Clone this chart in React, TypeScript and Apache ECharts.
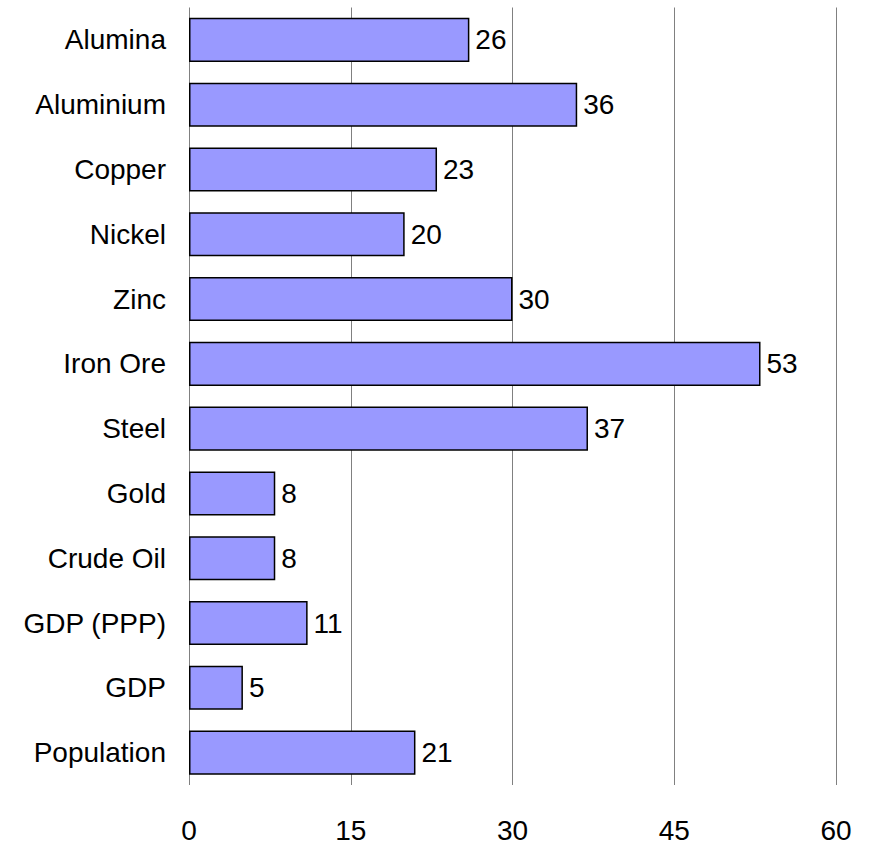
import React, { useEffect, useRef } from "react";
import * as echarts from "echarts";

const categories = ["Alumina", "Aluminium", "Copper", "Nickel", "Zinc", "Iron Ore", "Steel", "Gold", "Crude Oil", "GDP (PPP)", "GDP", "Population"];
const values = [26, 36, 23, 20, 30, 53, 37, 8, 8, 11, 5, 21];

const FONT = "Liberation Sans, Arial, sans-serif";

export default function App() {
  const ref = useRef<HTMLDivElement>(null);
  useEffect(() => {
    if (!ref.current) return;
    const chart = echarts.init(ref.current, null, { renderer: "svg" });
    chart.setOption({
      animation: false,
      backgroundColor: "#ffffff",
      grid: { left: 189, right: 34, top: 7.5, bottom: 60, containLabel: false },
      xAxis: {
        type: "value",
        min: 0,
        max: 60,
        interval: 15,
        axisLine: { show: false },
        axisTick: { show: false },
        axisLabel: { margin: 31, fontSize: 28, color: "#000", fontFamily: FONT },
        splitLine: { show: true, lineStyle: { color: "#808080", width: 1 } },
      },
      yAxis: {
        type: "category",
        data: categories,
        inverse: true,
        axisLine: { show: false },
        axisTick: { show: false },
        axisLabel: { margin: 23, fontSize: 28, color: "#000", fontFamily: FONT },
        splitLine: { show: false },
      },
      series: [
        {
          type: "bar",
          data: values,
          barCategoryGap: "32%",
          itemStyle: { color: "#9999ff", borderColor: "#000", borderWidth: 1.5 },
          label: {
            show: true,
            position: "right",
            distance: 6,
            fontSize: 28,
            color: "#000",
            fontFamily: FONT,
          },
        },
      ],
    });
    return () => chart.dispose();
  }, []);
  return <div ref={ref} style={{ position: "fixed", left: 0, top: 0, width: 870, height: 845, background: "#fff" }} />;
}
